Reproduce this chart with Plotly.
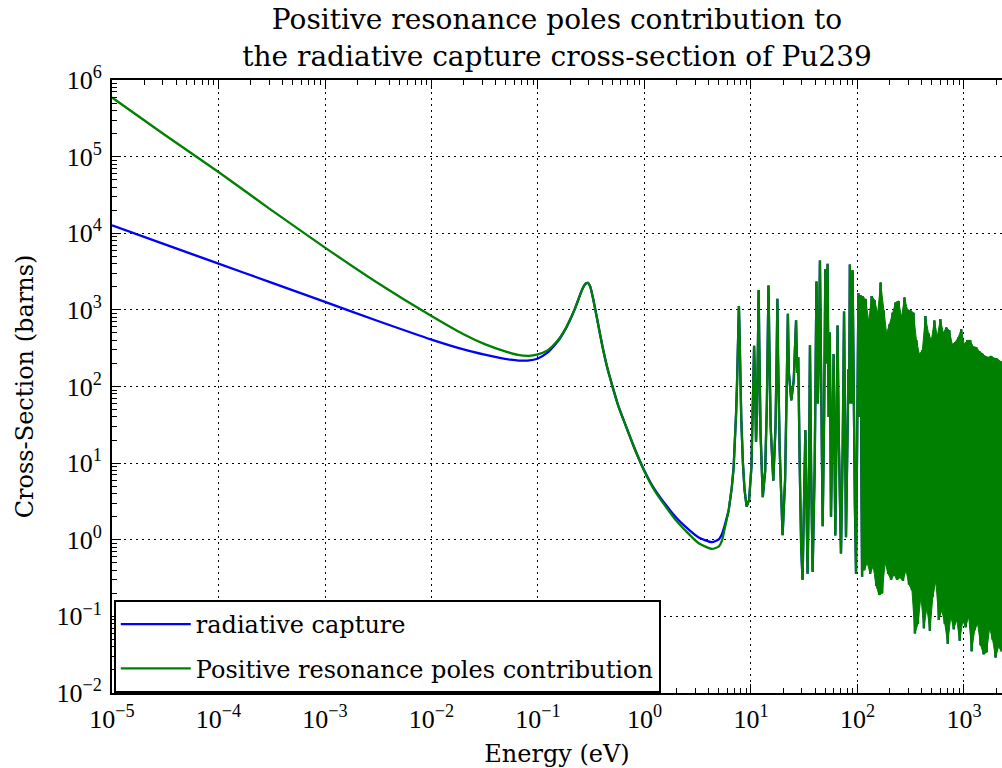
import plotly.graph_objects as go

# ---------------- data ----------------
# Low-energy region (1/v + first resonance), radiative capture
blue_low_energy = [1e-5, 3e-5, 1e-4, 3e-4, 1e-3, 3e-3, 1e-2, 0.02, 0.0316, 0.0427,
                   0.055, 0.066, 0.08, 0.1, 0.12, 0.135, 0.16, 0.18, 0.2, 0.22,
                   0.241, 0.26, 0.28, 0.295, 0.31, 0.333, 0.36, 0.40, 0.45, 0.495,
                   0.57, 0.66, 0.8, 1.0, 1.25, 1.57, 2.0, 2.42, 3.23, 4.3,
                   5.0, 5.35, 5.6, 6.17]
blue_low_xs = [12700, 7330, 4020, 2320, 1270, 733, 410, 305, 260, 238,
               224, 218, 218, 232, 270, 317, 420, 550, 740, 1000,
               1400, 1850, 2200, 2250, 2000, 1300, 750, 351, 170, 106,
               55, 32, 16, 7.9, 4.5, 2.9, 1.92, 1.48, 1.07, 0.93,
               1.02, 1.2, 1.45, 2.4]

# Low-energy region, positive resonance poles contribution
green_low_energy = [1e-5, 3e-5, 1e-4, 3e-4, 1e-3, 3e-3, 1e-2, 0.02, 0.0316, 0.05,
                    0.065, 0.0817, 0.1, 0.12, 0.135, 0.16, 0.18, 0.2, 0.22, 0.241,
                    0.26, 0.28, 0.295, 0.31, 0.333, 0.36, 0.40, 0.45, 0.495, 0.57,
                    0.66, 0.8, 1.0, 1.25, 1.57, 2.0, 2.42, 3.23, 4.3, 5.0,
                    5.35, 5.6, 6.17]
green_low_xs = [590000, 200000, 63000, 21000, 6500, 2330, 830, 480, 357, 285,
                258, 251, 263, 290, 330, 430, 560, 750, 1000, 1400,
                1850, 2200, 2250, 2000, 1300, 750, 351, 170, 106, 55,
                32, 16, 7.8, 4.35, 2.75, 1.75, 1.32, 0.9, 0.76, 0.82,
                0.98, 1.3, 2.4]

# Resolved resonances (both curves coincide here)
res_energy = [6.17, 6.6, 6.87, 7.1, 7.25, 7.39, 7.5, 7.6, 7.7, 7.8,
              7.9, 8.1, 8.4, 8.7, 9.1, 9.6, 10.1, 10.45, 10.7, 10.95,
              11.15, 11.4, 11.65, 11.8, 11.95, 12.3, 12.9, 13.6, 14.1, 14.4,
              14.6, 14.85, 15.3, 16.2, 17.0, 17.45, 17.7, 17.95, 18.6, 19.8,
              20.9, 21.7, 22.2, 22.7, 23.9, 25.2, 26.5, 27.1, 27.8, 28.6,
              29.6, 30.5, 31.6, 32.4, 33.2, 34.0, 35.0, 35.8, 36.7, 37.9,
              39.6, 41.2, 42.4, 43.5, 44.4, 45.6, 47.1, 48.6, 49.9, 51.0,
              52.4, 53.6, 55.0, 56.4, 58.1, 59.7, 60.8, 61.9, 63.5, 65.0,
              66.6, 70.0, 72.6, 74.8, 76.6, 78.0, 80.5, 82.2, 83.5, 84.8,
              86.5, 88.2, 89.9, 92.0, 94.5, 96.9, 99.5, 102.0, 104.5, 107.0,
              109.0, 110.5]
res_xs = [2.4, 4.8, 8.7, 20, 45, 106, 250, 600, 1120, 550,
          200, 39, 10, 4.5, 2.7, 3.3, 9, 60, 340, 90,
          19, 45, 400, 1820, 400, 25, 3.6, 8, 60, 600,
          2080, 400, 30, 5.9, 30, 300, 1400, 250, 15, 1.15,
          6, 120, 890, 150, 66, 120, 730, 150, 240, 12,
          0.8, 0.3, 3, 27, 3, 0.36, 6, 345, 8, 0.38,
          8, 2350, 60, 300, 4400, 60, 1.5, 40, 3400, 200,
          4000, 40, 505, 2, 15, 265, 15, 1.14, 25, 625,
          25, 0.66, 15, 950, 20, 1.08, 20, 168, 60, 3900,
          120, 60, 3300, 60, 3, 0.36, 20, 1650, 40, 1550,
          5, 0.33]

# Unresolved, densely packed resonances (alternating peak / valley levels)
dense_energy = [112, 115.7, 119.5, 123.4, 127.4, 131.6, 135.9, 140.4, 145.0, 149.7,
                154.6, 159.7, 164.9, 170.3, 175.9, 181.7, 187.6, 193.8, 200.1, 206.7,
                213.5, 220.5, 227.7, 235.2, 242.9, 250.8, 259.1, 267.6, 276.3, 285.4,
                294.8, 304.4, 314.4, 324.7, 335.4, 346.4, 357.7, 369.5, 381.6, 394.1,
                407.0, 420.4, 434.2, 448.4, 463.1, 478.3, 494.0, 510.2, 526.9, 544.2,
                562.0, 580.5, 599.5, 619.2, 639.5, 660.5, 682.1, 704.5, 727.6, 751.5,
                776.1, 801.6, 827.9, 855.0, 883.1, 912.1, 942.0, 972.9, 1004.8, 1037.8,
                1071.8, 1107.0, 1143.3, 1180.8, 1219.5, 1259.5, 1300.8, 1343.5, 1387.6, 1433.1,
                1480.1, 1528.6, 1578.8, 1630.6, 1684.1, 1739.3, 1796.4, 1855.3, 1916.2, 1979.0,
                2043.9, 2111.0, 2180.2, 2251.7, 2325.6]
dense_xs = [1500, 0.4, 1380, 0.5, 700, 0.36, 1520, 0.45, 1340, 0.25,
            900, 0.19, 2270, 0.2, 980, 0.5, 500, 0.36, 650, 0.3,
            920, 0.35, 1250, 0.3, 1310, 0.32, 800, 0.29, 1450, 0.4,
            1000, 0.26, 980, 0.22, 920, 0.06, 400, 0.08, 263, 0.18,
            300, 0.07, 830, 0.13, 500, 0.065, 400, 0.18, 725, 0.29,
            450, 0.09, 760, 0.12, 500, 0.08, 590, 0.044, 540, 0.1,
            355, 0.068, 380, 0.09, 435, 0.048, 560, 0.087, 355, 0.072,
            400, 0.1, 400, 0.035, 330, 0.066, 325, 0.08, 290, 0.042,
            270, 0.032, 250, 0.034, 240, 0.07, 250, 0.05, 235, 0.029,
            230, 0.04, 215, 0.035, 205]

assert len(blue_low_energy) == len(blue_low_xs)
assert len(green_low_energy) == len(green_low_xs)
assert len(res_energy) == len(res_xs)
assert len(dense_energy) == len(dense_xs)

x_tick_vals = [1e-5, 1e-4, 1e-3, 1e-2, 1e-1, 1e0, 1e1, 1e2, 1e3]
x_tick_text = ["10<sup>\u22125</sup>", "10<sup>\u22124</sup>", "10<sup>\u22123</sup>",
               "10<sup>\u22122</sup>", "10<sup>\u22121</sup>", "10<sup>0</sup>",
               "10<sup>1</sup>", "10<sup>2</sup>", "10<sup>3</sup>"]
y_tick_vals = [1e-2, 1e-1, 1e0, 1e1, 1e2, 1e3, 1e4, 1e5, 1e6]
y_tick_text = ["10<sup>\u22122</sup>", "10<sup>\u22121</sup>", "10<sup>0</sup>",
               "10<sup>1</sup>", "10<sup>2</sup>", "10<sup>3</sup>",
               "10<sup>4</sup>", "10<sup>5</sup>", "10<sup>6</sup>"]

series_names = ["radiative capture", "Positive resonance poles contribution"]
title_text = ("Positive resonance poles contribution to<br>"
              "the radiative capture cross-section of Pu239")
x_title = "Energy (eV)"
y_title = "Cross-Section (barns)"

BLUE = "#0000ff"
GREEN = "#008000"
SERIF = "DejaVu Serif"
TICKFONT = "Liberation Serif"

# minor tick positions (2..9 within every decade)
x_minor_vals = [m * 10.0 ** d for d in range(-5, 4) for m in range(2, 10)]
y_minor_vals = [m * 10.0 ** d for d in range(-2, 6) for m in range(2, 10)]

# ---------------- figure ----------------
fig = go.Figure()
res_e_all = res_energy + dense_energy
res_x_all = res_xs + dense_xs

# band covered by the densely packed resonances (peaks above, valleys below)
peak_e, peak_x = dense_energy[0::2], dense_xs[0::2]
valley_e, valley_x = dense_energy[1::2], dense_xs[1::2]
band_e = peak_e + valley_e[::-1]
band_x = peak_x + valley_x[::-1]

fig.add_trace(go.Scatter(x=blue_low_energy, y=blue_low_xs, mode="lines",
                         name=series_names[0], legendgroup="b",
                         line=dict(color=BLUE, width=2.3, shape="spline", smoothing=0.6)))
fig.add_trace(go.Scatter(x=res_e_all, y=res_x_all, mode="lines",
                         name=series_names[0], legendgroup="b", showlegend=False,
                         line=dict(color=BLUE, width=2.3)))
fig.add_trace(go.Scatter(x=green_low_energy, y=green_low_xs, mode="lines",
                         name=series_names[1], legendgroup="g",
                         line=dict(color=GREEN, width=2.3, shape="spline", smoothing=0.6)))
fig.add_trace(go.Scatter(x=band_e, y=band_x, mode="lines", fill="toself",
                         fillcolor=GREEN, name=series_names[1], legendgroup="g",
                         showlegend=False, hoverinfo="skip",
                         line=dict(color=GREEN, width=1)))
fig.add_trace(go.Scatter(x=res_e_all, y=res_x_all, mode="lines",
                         name=series_names[1], legendgroup="g", showlegend=False,
                         line=dict(color=GREEN, width=2.3)))

axis_common = dict(
    type="log", tickmode="array",
    showgrid=True, gridcolor="black", griddash="2px,4px", gridwidth=1.3,
    showline=True, linecolor="black", linewidth=2,
    ticks="inside", ticklen=9, tickwidth=1.3, tickcolor="black",
    zeroline=False, tickfont=dict(family=TICKFONT, size=26, color="black"),
)

fig.update_layout(
    width=1002, height=768,
    margin=dict(l=112, r=0, t=80, b=75),
    paper_bgcolor="white", plot_bgcolor="white",
    font=dict(family=SERIF, size=24, color="black"),
    title=dict(text=title_text,
               xref="paper", x=0.5, xanchor="center",
               yref="container", y=0.962, yanchor="top",
               font=dict(family=SERIF, size=28, color="black")),
    legend=dict(x=0.002, y=0.0, xanchor="left", yanchor="bottom",
                bordercolor="black", borderwidth=2, bgcolor="white",
                itemwidth=70,
                font=dict(family=SERIF, size=24, color="black")),
    xaxis=dict(range=[-5, 3.357], mirror="allticks",
               tickvals=x_tick_vals, ticktext=x_tick_text, ticklabelstandoff=2,
               minor=dict(tickmode="array", tickvals=x_minor_vals, ticks="inside",
                          ticklen=5, tickwidth=1, tickcolor="black", showgrid=False),
               title=dict(text=x_title, standoff=14,
                          font=dict(family=SERIF, size=24, color="black")),
               **axis_common),
    yaxis=dict(range=[-2, 6], mirror=False,
               tickvals=y_tick_vals, ticktext=y_tick_text, ticklabelstandoff=3,
               minor=dict(tickmode="array", tickvals=y_minor_vals, ticks="inside",
                          ticklen=5, tickwidth=1, tickcolor="black", showgrid=False),
               title=dict(text=y_title, standoff=16,
                          font=dict(family=SERIF, size=24, color="black")),
               **axis_common),
)

fig.write_html("out.html")
